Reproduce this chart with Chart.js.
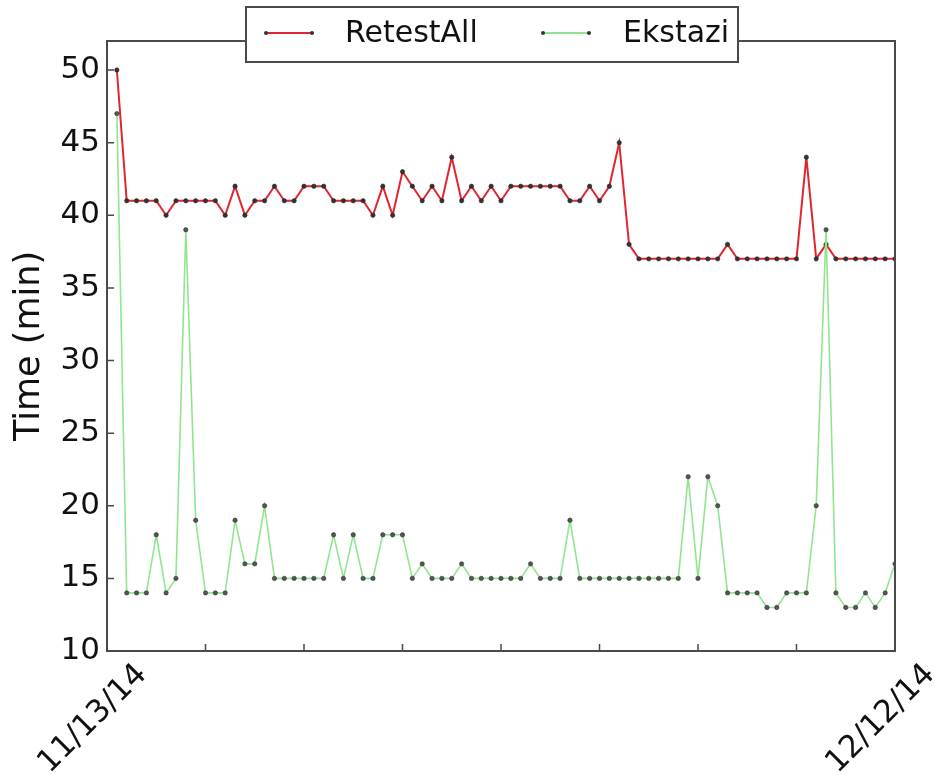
<!DOCTYPE html>
<html>
<head>
<meta charset="utf-8">
<script src="https://cdn.jsdelivr.net/npm/chart.js@4"></script>
<style>
  html, body { margin: 0; padding: 0; background: #fff; }
  #wrap { width: 941px; height: 784px; }
</style>
</head>
<body>
<div id="wrap"><canvas id="chart" width="941" height="784"></canvas></div>
<script>
/* Test run time per commit, RetestAll vs Ekstazi */

var retestAll = [50, 41, 41, 41, 41, 40, 41, 41, 41, 41,
                 41, 40, 42, 40, 41, 41, 42, 41, 41, 42,
                 42, 42, 41, 41, 41, 41, 40, 42, 40, 43,
                 42, 41, 42, 41, 44, 41, 42, 41, 42, 41,
                 42, 42, 42, 42, 42, 42, 41, 41, 42, 41,
                 42, 45, 38, 37, 37, 37, 37, 37, 37, 37,
                 37, 37, 38, 37, 37, 37, 37, 37, 37, 37,
                 44, 37, 38, 37, 37, 37, 37, 37, 37, 37];
var ekstazi = [47, 14, 14, 14, 18, 14, 15, 39, 19, 14,
               14, 14, 19, 16, 16, 20, 15, 15, 15, 15,
               15, 15, 18, 15, 18, 15, 15, 18, 18, 18,
               15, 16, 15, 15, 15, 16, 15, 15, 15, 15,
               15, 15, 16, 15, 15, 15, 19, 15, 15, 15,
               15, 15, 15, 15, 15, 15, 15, 15, 22, 15,
               22, 20, 14, 14, 14, 14, 13, 13, 14, 14,
               14, 20, 39, 14, 13, 13, 14, 13, 14, 16];
var seriesNames = ['RetestAll', 'Ekstazi'];
var xTickLabels = ['11/13/14', '12/12/14'];
var xTickValues = [0, 80];

var C = { red: '#e0262f', green: '#90e690', marker: '#333', axis: '#4a4a4a', text: '#111' };
var FONT = 'DejaVu Sans';

function toPoints(arr) {
  return arr.map(function (v, i) { return { x: i + 1, y: v }; });
}

/* matplotlib-like frame, inward ticks, rotated date labels */
var frame = {
  id: 'frame',
  afterDatasetsDraw: function (chart) {
    var ctx = chart.ctx, a = chart.chartArea;
    var xs = chart.scales.x, ys = chart.scales.y;
    ctx.save();
    ctx.strokeStyle = C.axis;
    ctx.lineWidth = 2;
    ctx.strokeRect(a.left, a.top, a.right - a.left, a.bottom - a.top);
    ctx.lineWidth = 1.5;
    ctx.beginPath();
    ys.ticks.forEach(function (t) {
      var y = ys.getPixelForValue(t.value);
      ctx.moveTo(a.left, y); ctx.lineTo(a.left + 7, y);
    });
    xs.ticks.forEach(function (t) {
      var x = xs.getPixelForValue(t.value);
      ctx.moveTo(x, a.bottom); ctx.lineTo(x, a.bottom - 7);
    });
    ctx.stroke();

    ctx.fillStyle = C.text;
    ctx.font = '31px ' + FONT;
    ctx.textAlign = 'center';
    ctx.textBaseline = 'middle';
    xTickLabels.forEach(function (lab, i) {
      var x = xs.getPixelForValue(xTickValues[i]);
      ctx.save();
      ctx.translate(x - 14, a.bottom + 68);
      ctx.rotate(-Math.PI / 4);
      ctx.fillText(lab, 0, 0);
      ctx.restore();
    });
    ctx.restore();
  },
  afterDraw: function (chart) {
    /* legend box overlapping the top spine */
    var ctx = chart.ctx;
    var colors = [C.red, C.green];
    var entries = [{ x0: 266, tx: 345 }, { x0: 543, tx: 623 }];
    ctx.save();
    ctx.fillStyle = '#fff';
    ctx.fillRect(246, 7, 492, 55);
    ctx.strokeStyle = C.axis;
    ctx.lineWidth = 2;
    ctx.strokeRect(246, 7, 492, 55);
    ctx.font = '30px ' + FONT;
    ctx.textBaseline = 'middle';
    ctx.textAlign = 'left';
    entries.forEach(function (e, i) {
      var y = 33;
      ctx.strokeStyle = colors[i];
      ctx.lineWidth = 2;
      ctx.beginPath(); ctx.moveTo(e.x0, y); ctx.lineTo(e.x0 + 46, y); ctx.stroke();
      ctx.fillStyle = C.marker;
      [e.x0, e.x0 + 46].forEach(function (px) {
        ctx.beginPath(); ctx.arc(px, y, 2, 0, Math.PI * 2); ctx.fill();
      });
      ctx.fillStyle = C.text;
      ctx.fillText(seriesNames[i], e.tx, y + 1);
    });
    ctx.restore();
  }
};

new Chart(document.getElementById('chart'), {
  type: 'line',
  data: {
    datasets: [
      { label: seriesNames[0], data: toPoints(retestAll), borderColor: C.red, borderWidth: 2,
        pointRadius: 2.2, pointBackgroundColor: C.marker, pointBorderColor: '#222', pointBorderWidth: 0.5,
        tension: 0, order: 2 },
      { label: seriesNames[1], data: toPoints(ekstazi), borderColor: C.green, borderWidth: 1.6,
        pointRadius: 2.2, pointBackgroundColor: '#555', pointBorderColor: '#222', pointBorderWidth: 0.5,
        tension: 0, order: 1 }
    ]
  },
  options: {
    responsive: false,
    animation: false,
    layout: { padding: { top: 41, right: 46, bottom: 0, left: 0 } },
    plugins: { legend: { display: false }, tooltip: { enabled: false } },
    scales: {
      x: {
        type: 'linear', min: 0, max: 80,
        ticks: { display: false, stepSize: 10 },
        grid: { display: false, drawTicks: false },
        border: { display: false },
        afterFit: function (s) { s.height = 133; }
      },
      y: {
        min: 10, max: 52,
        ticks: { stepSize: 5, includeBounds: false, padding: 7, color: C.text, font: { family: FONT, size: 31 } },
        grid: { display: false, drawTicks: false },
        border: { display: false },
        title: { display: true, text: 'Time (min)', color: C.text, padding: { top: 9 }, font: { family: FONT, size: 35 } },
        afterFit: function (s) { s.width = 107; }
      }
    }
  },
  plugins: [frame]
});
</script>
</body>
</html>
